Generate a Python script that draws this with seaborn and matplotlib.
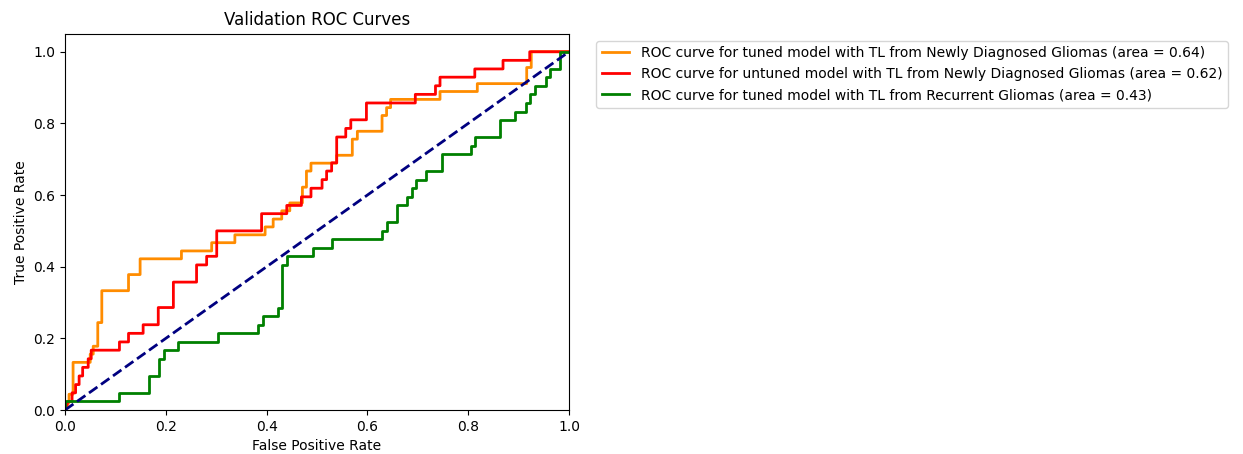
import matplotlib
matplotlib.use("Agg")
import matplotlib.pyplot as plt
import seaborn as sns

# ROC vertices
fpr_tuned_nd = [0.0, 0.008, 0.008, 0.016, 0.016, 0.050, 0.050, 0.056, 0.056, 0.065, 0.065,
                0.073, 0.073, 0.126, 0.126, 0.149, 0.149, 0.231, 0.231, 0.291, 0.291,
                0.337, 0.337, 0.397, 0.397, 0.413, 0.413, 0.430, 0.430, 0.446, 0.446,
                0.471, 0.471, 0.479, 0.479, 0.488, 0.488, 0.539, 0.539, 0.570, 0.570,
                0.580, 0.580, 0.629, 0.629, 0.638, 0.638, 0.646, 0.646, 0.744, 0.744,
                0.818, 0.818, 0.916, 0.916, 0.925, 0.925, 1.0]
tpr_tuned_nd = [0.0, 0.022, 0.044, 0.044, 0.133, 0.133, 0.156, 0.156, 0.178, 0.178, 0.244,
                0.244, 0.333, 0.333, 0.378, 0.378, 0.422, 0.422, 0.444, 0.444, 0.467,
                0.467, 0.489, 0.489, 0.511, 0.511, 0.533, 0.533, 0.556, 0.556, 0.578,
                0.578, 0.622, 0.622, 0.667, 0.667, 0.689, 0.689, 0.711, 0.711, 0.756,
                0.756, 0.778, 0.778, 0.822, 0.822, 0.844, 0.844, 0.867, 0.867, 0.889,
                0.889, 0.911, 0.911, 0.956, 0.956, 1.0, 1.0]

fpr_untuned_nd = [0.0, 0.006, 0.014, 0.014, 0.021, 0.021, 0.028, 0.028, 0.035, 0.035, 0.046,
                  0.046, 0.052, 0.052, 0.108, 0.108, 0.126, 0.126, 0.155, 0.155, 0.185,
                  0.185, 0.215, 0.215, 0.261, 0.261, 0.281, 0.281, 0.301, 0.301, 0.390,
                  0.390, 0.440, 0.440, 0.469, 0.469, 0.488, 0.488, 0.510, 0.510, 0.519,
                  0.519, 0.529, 0.529, 0.539, 0.539, 0.557, 0.557, 0.567, 0.567, 0.598,
                  0.598, 0.695, 0.695, 0.735, 0.735, 0.744, 0.744, 0.813, 0.813, 0.869,
                  0.869, 0.922, 0.922, 1.0]
tpr_untuned_nd = [0.0, 0.024, 0.024, 0.048, 0.048, 0.071, 0.071, 0.095, 0.095, 0.119, 0.119,
                  0.143, 0.143, 0.167, 0.167, 0.190, 0.190, 0.214, 0.214, 0.238, 0.238,
                  0.286, 0.286, 0.357, 0.357, 0.405, 0.405, 0.429, 0.429, 0.500, 0.500,
                  0.548, 0.548, 0.571, 0.571, 0.595, 0.595, 0.619, 0.619, 0.643, 0.643,
                  0.667, 0.667, 0.690, 0.690, 0.762, 0.762, 0.786, 0.786, 0.810, 0.810,
                  0.857, 0.857, 0.881, 0.881, 0.905, 0.905, 0.929, 0.929, 0.952, 0.952,
                  0.976, 0.976, 1.0, 1.0]

fpr_tuned_rec = [0.0, 0.0, 0.108, 0.108, 0.167, 0.167, 0.187, 0.187, 0.197, 0.197, 0.225,
                 0.225, 0.303, 0.303, 0.382, 0.382, 0.392, 0.392, 0.422, 0.422, 0.431,
                 0.431, 0.441, 0.441, 0.492, 0.492, 0.530, 0.530, 0.628, 0.628, 0.638,
                 0.638, 0.658, 0.658, 0.678, 0.678, 0.688, 0.688, 0.697, 0.697, 0.716,
                 0.716, 0.747, 0.747, 0.805, 0.805, 0.814, 0.814, 0.864, 0.864, 0.892,
                 0.892, 0.914, 0.914, 0.922, 0.922, 0.932, 0.932, 0.954, 0.954, 0.963,
                 0.963, 0.982, 0.982, 1.0]
tpr_tuned_rec = [0.0, 0.024, 0.024, 0.048, 0.048, 0.095, 0.095, 0.143, 0.143, 0.167, 0.167,
                 0.190, 0.190, 0.214, 0.214, 0.238, 0.238, 0.262, 0.262, 0.286, 0.286,
                 0.405, 0.405, 0.429, 0.429, 0.452, 0.452, 0.476, 0.476, 0.500, 0.500,
                 0.524, 0.524, 0.571, 0.571, 0.595, 0.595, 0.619, 0.619, 0.643, 0.643,
                 0.667, 0.667, 0.714, 0.714, 0.738, 0.738, 0.762, 0.762, 0.810, 0.810,
                 0.833, 0.833, 0.857, 0.857, 0.881, 0.881, 0.905, 0.905, 0.929, 0.929,
                 0.952, 0.952, 1.0, 1.0]

auc_values = [0.64, 0.62, 0.43]
labels = ["ROC curve for tuned model with TL from Newly Diagnosed Gliomas",
          "ROC curve for untuned model with TL from Newly Diagnosed Gliomas",
          "ROC curve for tuned model with TL from Recurrent Gliomas"]
colors = ["darkorange", "red", "green"]

curves = [(fpr_tuned_nd, tpr_tuned_nd), (fpr_untuned_nd, tpr_untuned_nd),
          (fpr_tuned_rec, tpr_tuned_rec)]

fig = plt.figure(figsize=(12.43, 4.54), dpi=100)
ax = fig.add_axes([0.0523, 0.0969, 0.4055, 0.8286])

for (fpr, tpr), lab, auc, col in zip(curves, labels, auc_values, colors):
    sns.lineplot(x=fpr, y=tpr, sort=False, estimator=None, color=col, lw=2,
                 label=f"{lab} (area = {auc:.2f})", ax=ax)

# chance line
sns.lineplot(x=[0, 1], y=[0, 1], sort=False, estimator=None, color="navy",
             lw=2, linestyle="--", ax=ax)

ax.set_xlim([0.0, 1.0])
ax.set_ylim([0.0, 1.05])
ax.set_xlabel("False Positive Rate")
ax.set_ylabel("True Positive Rate")
ax.set_title("Validation ROC Curves")
ax.legend(loc="upper left", bbox_to_anchor=(1.04, 1))

fig.savefig("out.png", dpi=100)
plt.close(fig)
